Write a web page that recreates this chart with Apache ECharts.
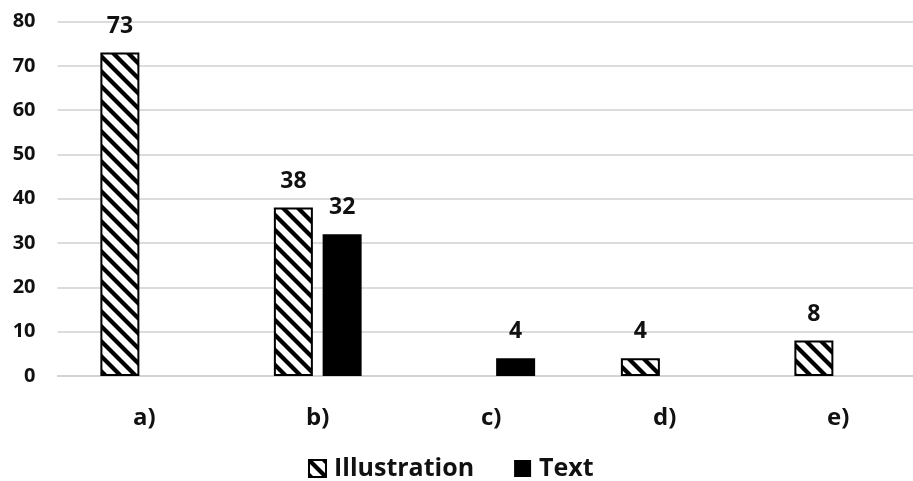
<!DOCTYPE html>
<html>
<head>
<meta charset="utf-8">
<script src="https://cdn.jsdelivr.net/npm/echarts@6/dist/echarts.min.js"></script>
<style>
  html, body { margin: 0; padding: 0; background: #fff; overflow: hidden; }
  /* plot area continues slightly past the right edge of the window */
  #chart { width: 925px; height: 481px; }
</style>
</head>
<body>
<div id="chart"></div>
<script>
// Response categories and counts per presentation type
const categories = ['a)', 'b)', 'c)', 'd)', 'e)'];
const illustrationValues = [73, 38, null, 4, 8];
const textValues = [null, 32, 4, null, null];
const yTicks = [0, 10, 20, 30, 40, 50, 60, 70, 80];

const FONT = '"Open Sans"';

// Diagonal "\" hatch tile used as the fill for the Illustration series
function makeHatch() {
  const s = 15;
  const c = document.createElement('canvas');
  c.width = s; c.height = s;
  const g = c.getContext('2d');
  g.fillStyle = '#fff';
  g.fillRect(0, 0, s, s);
  g.strokeStyle = '#000';
  g.lineWidth = 4.2;
  for (let k = -1; k <= 1; k++) {
    g.beginPath();
    g.moveTo(k * s - 5, -5);
    g.lineTo(k * s + s + 5, s + 5);
    g.stroke();
  }
  return c;
}

const hatch = { image: makeHatch(), repeat: 'repeat' };

const chart = echarts.init(document.getElementById('chart'), null, { renderer: 'canvas' });

const labelStyle = {
  show: true,
  position: 'top',
  distance: 15,
  fontFamily: FONT,
  fontWeight: 'bold',
  fontSize: 23,
  color: '#111'
};

chart.setOption({
  animation: false,
  backgroundColor: '#fff',
  grid: { left: 57.5, right: 0, top: 21.5, height: 354.5 },
  legend: {
    top: 451,
    left: 303,
    icon: 'rect',
    itemWidth: 17,
    itemHeight: 17,
    itemGap: 40,
    textStyle: { fontFamily: FONT, fontWeight: 'bold', fontSize: 25, color: '#111', padding: [0, 0, 0, 3] },
    data: ['Illustration', 'Text']
  },
  xAxis: {
    type: 'category',
    data: categories,
    axisLine: { show: true, lineStyle: { color: '#d0d0d0', width: 1.5 } },
    axisTick: { show: false },
    axisLabel: { margin: 30, fontFamily: FONT, fontWeight: 'bold', fontSize: 24, color: '#111' }
  },
  yAxis: {
    type: 'value',
    min: yTicks[0],
    max: yTicks[yTicks.length - 1],
    interval: yTicks[1] - yTicks[0],
    axisLine: { show: false },
    axisTick: { show: false },
    splitLine: { lineStyle: { color: '#d0d0d0', width: 1.5 } },
    axisLabel: { margin: 22, fontFamily: FONT, fontWeight: 'bold', fontSize: 20, color: '#111' }
  },
  series: [
    {
      name: 'Illustration',
      type: 'bar',
      data: illustrationValues,
      barWidth: 39,
      barGap: '25%',
      itemStyle: { color: hatch, borderColor: '#000', borderWidth: 2 },
      label: labelStyle
    },
    {
      name: 'Text',
      type: 'bar',
      data: textValues,
      barWidth: 39,
      itemStyle: { color: '#000', borderColor: '#000', borderWidth: 0 },
      label: labelStyle
    }
  ]
});
</script>
</body>
</html>
